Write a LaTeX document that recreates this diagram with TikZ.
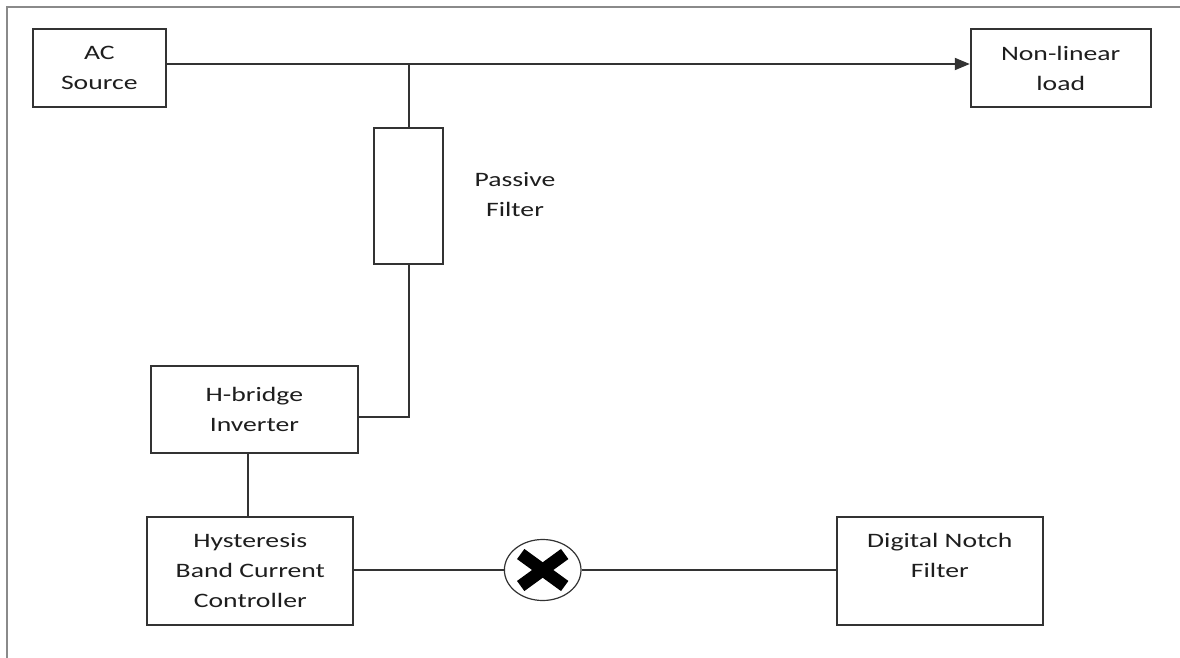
\documentclass[tikz,border=0pt]{standalone}
\usepackage{fontspec}
\setmainfont{Carlito}
\usetikzlibrary{arrows.meta,shapes.geometric}
\definecolor{ln}{HTML}{333333}
\definecolor{tx}{HTML}{1E1E1E}
\definecolor{fr}{HTML}{8A8A8A}
\begin{document}
\begin{tikzpicture}[x=1pt,y=-1pt,
  blk/.style={draw=ln,line width=1.8pt,fill=white,inner sep=0pt,rectangle},
  txt/.style={text=tx,align=center,xscale=1.35,inner sep=0pt,font=\fontsize{20.5}{30}\selectfont},
  wire/.style={draw=ln,line width=1.8pt}]
\useasboundingbox (0,0) rectangle (1180,658);
\fill[white] (0,0) rectangle (1180,658);
% frame
\draw[fr,line width=2pt] (7,658) -- (7,7) -- (1180,7);
% blocks
\node[blk,minimum width=132.7pt,minimum height=78pt] (ac) at (99.3,68) {};
\node[txt] (actx) at (ac) {AC\\Source};
\node[blk,minimum width=180pt,minimum height=78pt] (nl) at (1060.7,68) {};
\node[txt] (nltx) at (nl) {Non-linear\\load};
\node[blk,minimum width=69pt,minimum height=136.6pt] (pf) at (408.8,196) {};
\node[txt] (pftx) at (515,195) {Passive\\Filter};
\node[blk,minimum width=206.7pt,minimum height=87.6pt] (hb) at (254.4,409.5) {};
\node[txt] (hbtx) at (hb) {H-bridge\\Inverter};
\node[blk,minimum width=206pt,minimum height=107.7pt] (hy) at (250.3,571) {};
\node[txt] (hytx) at (hy) {Hysteresis\\Band Current\\Controller};
\node[blk,minimum width=206pt,minimum height=108.3pt] (dn) at (939.8,571) {};
\node[txt,anchor=north] (dntx) at ([yshift=-17pt]dn.north) {Digital Notch\\Filter};
\node[draw=ln,line width=1.2pt,ellipse,minimum width=76.6pt,minimum height=61pt,inner sep=0pt,fill=white] (mx) at (542.7,570) {};
% cross
\draw[black,line width=12.5pt] ([shift={(-22,-16)}]mx.center) -- ([shift={(22,16)}]mx.center);
\draw[black,line width=12.5pt] ([shift={(-22,16)}]mx.center) -- ([shift={(22,-16)}]mx.center);
% connectors
\coordinate (j) at (408.8,64);
\coordinate (c1) at (408.8,416.7);
\draw[wire,-{Triangle[length=15pt,width=12pt]}] (ac.east |- j) -- (nl.west |- j);
\draw[wire] (j) -- (pf.north);
\draw[wire] (pf.south) -- (c1) -- (hb.east |- c1);
\draw[wire] (hb.south -| 248,0) -- (hy.north -| 248,0);
\draw[wire] (hy.east |- mx) -- (mx.west);
\draw[wire] (mx.east) -- (dn.west |- mx);
\end{tikzpicture}
\end{document}
